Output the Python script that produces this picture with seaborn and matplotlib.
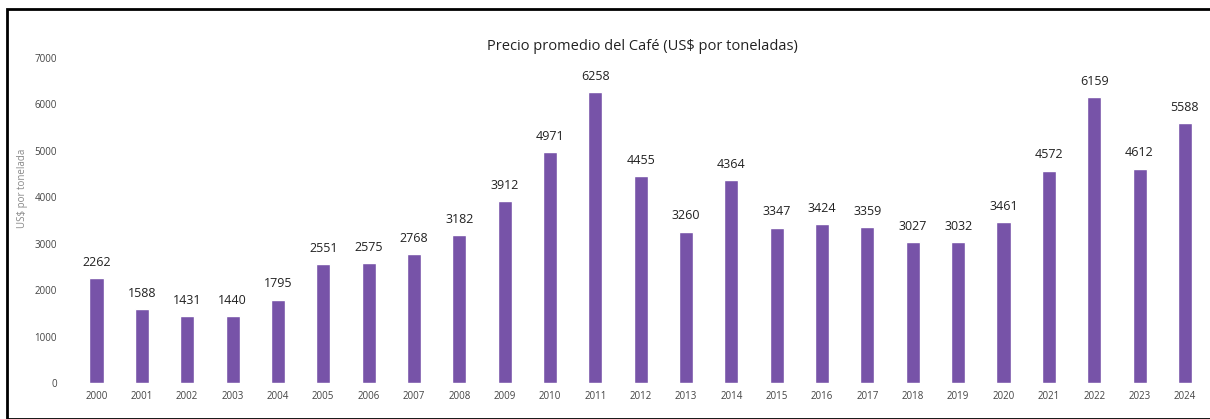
import pandas as pd
import seaborn as sns
import matplotlib.pyplot as plt
from matplotlib.patches import Rectangle

# data
years = ["2000", "2001", "2002", "2003", "2004", "2005", "2006", "2007", "2008",
         "2009", "2010", "2011", "2012", "2013", "2014", "2015", "2016", "2017",
         "2018", "2019", "2020", "2021", "2022", "2023", "2024"]
precios = [2262, 1588, 1431, 1440, 1795, 2551, 2575, 2768, 3182, 3912, 4971, 6258,
           4455, 3260, 4364, 3347, 3424, 3359, 3027, 3032, 3461, 4572, 6159, 4612, 5588]
y_ticks = [0, 1000, 2000, 3000, 4000, 5000, 6000, 7000]

df = pd.DataFrame({"anio": years, "precio": precios})

sns.set_style("white")
plt.rcParams["font.family"] = ["Open Sans", "DejaVu Sans"]

fig = plt.figure(figsize=(12.1, 4.19), dpi=100)
ax = fig.add_axes([0.061, 0.086, 0.937, 0.776])

sns.barplot(data=df, x="anio", y="precio", color="#7753a8", saturation=1,
            width=0.31, ax=ax)

# value labels on top of each bar
for i, v in enumerate(precios):
    ax.text(i, v + 200, str(v), ha="center", va="bottom", fontsize=9, color="#222222")

ax.set_ylim(0, 7000)
ax.set_xlim(-0.5, len(years) - 0.5)
ax.set_yticks(y_ticks)
ax.set_yticklabels([str(t) for t in y_ticks], fontsize=7, color="#444444")
ax.tick_params(axis="x", labelsize=7, labelcolor="#444444", length=0, pad=6)
ax.tick_params(axis="y", length=0, pad=12)
ax.set_xlabel("")
ax.set_ylabel("US$ por tonelada", fontsize=7, color="#888888")
ax.yaxis.set_label_coords(-0.04, 0.6)
sns.despine(ax=ax, left=True, bottom=True)

fig.text(0.531, 0.89, "Precio promedio del Café (US$ por toneladas)",
         ha="center", va="center", fontsize=10.5, color="#222222")

# black frame around the chart
fig.patches.append(Rectangle((7 / 1210, 0.0), 1.1, 1 - 9 / 419, transform=fig.transFigure,
                             fill=False, edgecolor="black", linewidth=2.0))

fig.savefig("out.png", dpi=100)
